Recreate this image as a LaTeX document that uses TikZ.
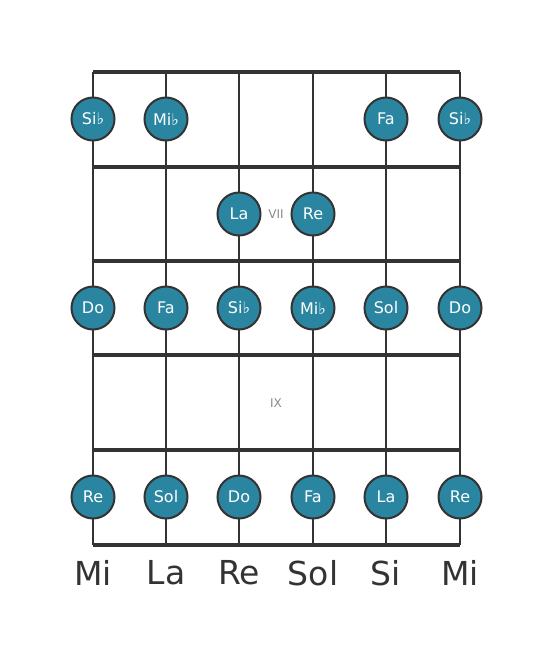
\documentclass[tikz,border=0pt]{standalone}
\usepackage{fontspec}
\setmainfont{DejaVu Sans}
\definecolor{notefill}{HTML}{2A85A0}
\definecolor{ink}{HTML}{333333}
\definecolor{fretnum}{HTML}{8A8A8A}
\tikzset{
  note/.style={draw=ink, fill=notefill, circle, line width=2pt, minimum size=43pt, inner sep=0pt, text=white, font=\fontsize{16}{16}\selectfont},
  openstr/.style={text=ink, font=\fontsize{33}{33}\selectfont},
  fretlbl/.style={text=fretnum, font=\fontsize{12}{12}\selectfont},
  guitarstring/.style={draw=ink, line width=2.8pt},
  fretbar/.style={draw=ink, line width=4.8pt}
}
\begin{document}
\begin{tikzpicture}[x=1pt,y=-1pt]
  \useasboundingbox[fill=white] (0,0) rectangle (553,656);
  % string ends
  \coordinate (s1t) at (93,72);  \coordinate (s1b) at (93,545);
  \coordinate (s2t) at (166,72); \coordinate (s2b) at (166,545);
  \coordinate (s3t) at (239,72); \coordinate (s3b) at (239,545);
  \coordinate (s4t) at (313,72); \coordinate (s4b) at (313,545);
  \coordinate (s5t) at (386,72); \coordinate (s5b) at (386,545);
  \coordinate (s6t) at (460,72); \coordinate (s6b) at (460,545);
  % fret ends
  \coordinate (f1l) at (93,167); \coordinate (f1r) at (460,167);
  \coordinate (f2l) at (93,261); \coordinate (f2r) at (460,261);
  \coordinate (f3l) at (93,355); \coordinate (f3r) at (460,355);
  \coordinate (f4l) at (93,450); \coordinate (f4r) at (460,450);
  % strings
  \draw[guitarstring] (s1t) -- (s1b);
  \draw[guitarstring] (s2t) -- (s2b);
  \draw[guitarstring] (s3t) -- (s3b);
  \draw[guitarstring] (s4t) -- (s4b);
  \draw[guitarstring] (s5t) -- (s5b);
  \draw[guitarstring] (s6t) -- (s6b);
  % frets
  \draw[fretbar] (s1t) -- (s6t);
  \draw[fretbar] (f1l) -- (f1r);
  \draw[fretbar] (f2l) -- (f2r);
  \draw[fretbar] (f3l) -- (f3r);
  \draw[fretbar] (f4l) -- (f4r);
  \draw[fretbar] (s1b) -- (s6b);
  % fret numbers
  \node[fretlbl] (vii) at (276,214) {VII};
  \node[fretlbl] (ix) at (276,403) {IX};
  % row 1
  \node[note] (n11) at (93,119) {Si♭};
  \node[note] (n12) at (166,119) {Mi♭};
  \node[note] (n15) at (386,119) {Fa};
  \node[note] (n16) at (460,119) {Si♭};
  % row 2
  \node[note] (n23) at (239,214) {La};
  \node[note] (n24) at (313,214) {Re};
  % row 3
  \node[note] (n31) at (93,308) {Do};
  \node[note] (n32) at (166,308) {Fa};
  \node[note] (n33) at (239,308) {Si♭};
  \node[note] (n34) at (313,308) {Mi♭};
  \node[note] (n35) at (386,308) {Sol};
  \node[note] (n36) at (460,308) {Do};
  % row 5
  \node[note] (n51) at (93,497) {Re};
  \node[note] (n52) at (166,497) {Sol};
  \node[note] (n53) at (239,497) {Do};
  \node[note] (n54) at (313,497) {Fa};
  \node[note] (n55) at (386,497) {La};
  \node[note] (n56) at (460,497) {Re};
  % open strings
  \node[openstr] (o1) at (93,573) {Mi};
  \node[openstr] (o2) at (166,573) {La};
  \node[openstr] (o3) at (239,573) {Re};
  \node[openstr] (o4) at (313,573) {Sol};
  \node[openstr] (o5) at (386,573) {Si};
  \node[openstr] (o6) at (460,573) {Mi};
\end{tikzpicture}
\end{document}
